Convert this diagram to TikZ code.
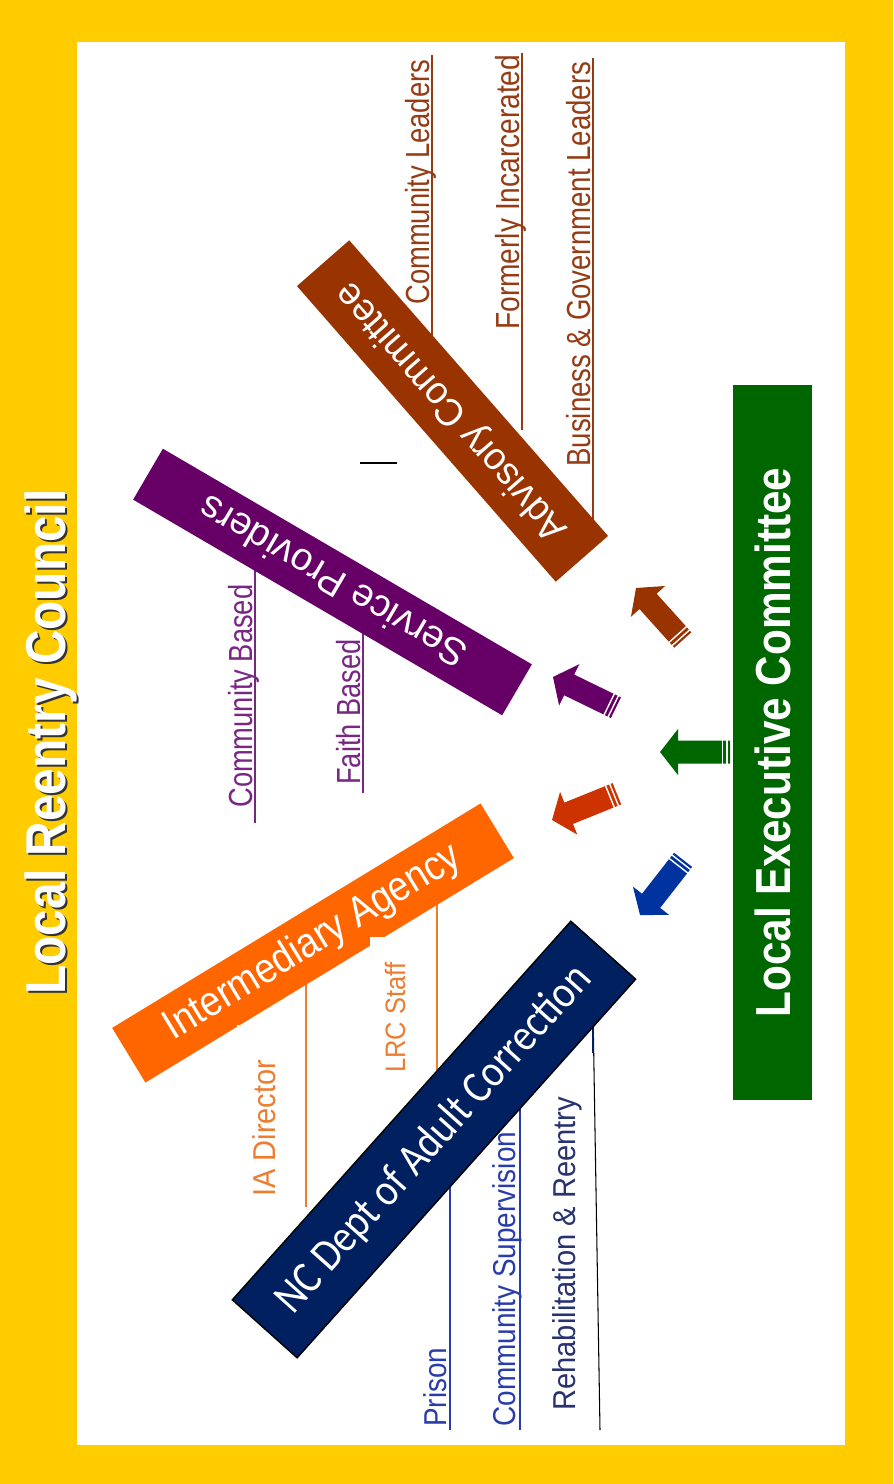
\documentclass[tikz,border=0pt]{standalone}
\usepackage{fontspec}
\setmainfont{Liberation Sans}
\newfontfamily\calfont{Carlito}
\usetikzlibrary{positioning}
\definecolor{rcyellow}{RGB}{255,204,0}
\definecolor{lecgreen}{RGB}{0,102,0}
\definecolor{advbrown}{RGB}{153,51,0}
\definecolor{sppurple}{RGB}{102,0,102}
\definecolor{iaorange}{RGB}{255,102,0}
\definecolor{ncnavy}{RGB}{0,32,96}
\definecolor{advtext}{RGB}{150,60,20}
\definecolor{sptext}{RGB}{120,40,130}
\definecolor{iatext}{RGB}{237,125,49}
\definecolor{nctext}{RGB}{40,60,170}
\definecolor{rehabtext}{RGB}{40,50,110}
\definecolor{arrred}{RGB}{204,51,0}
\definecolor{arrblue}{RGB}{0,51,160}
\newcommand{\fitw}[3]{\resizebox{#1}{\height}{\fontsize{#2}{#2}\selectfont #3}}

\begin{document}
\begin{tikzpicture}[x=0.02cm,y=-0.02cm,
    bar/.style={rectangle, inner sep=0pt, text=white},
    sublbl/.style={rotate=90, anchor=base west, inner sep=0pt},
    subline/.style={line width=0.8pt},
    pics/blockarrow/.style={code={
      \fill[fill=#1] (0,0) -- (-18,-23) -- (-18,-11.5) -- (-70,-11.5) -- (-70,11.5) -- (-18,11.5) -- (-18,23) -- cycle;
      \draw[white, line width=0.8pt] (-67,-12) -- (-67,12) (-62.5,-12) -- (-62.5,12);
    }}]
  \fill[rcyellow] (0,0) rectangle (893,1484);
  \useasboundingbox (0,0) rectangle (893,1484);
  \fill[white] (77,42) rectangle (845,1445);

  \node[rotate=90, anchor=base, inner sep=0pt, text=black!80] (titleshadow) at (67,744) {\fitw{10.1cm}{32}{\bfseries Local Reentry Council}};
  \node[rotate=90, anchor=base, inner sep=0pt, text=white] (title) at (65,742) {\fitw{10.1cm}{32}{\bfseries Local Reentry Council}};

  % underlines running into the bars
  \draw[subline, advtext] (432,55) -- (432,340) (522,53) -- (522,430) (593,58) -- (593,530);
  \draw[subline, sptext] (255,560) -- (255,823) (363,620) -- (363,793);
  \draw[subline, iatext] (306,970) -- (306,1207) (437,890) -- (437,1070);
  \draw[subline, nctext] (450,1170) -- (450,1430) (520,1090) -- (520,1430);
  \draw[line width=0.6pt, black] (593,1010) -- (600,1430);
  \draw[subline, ncnavy] (593,1020) -- (593,1053);
  \draw[line width=0.8pt] (360,463) -- (397,463);

  \node[bar, fill=lecgreen, rotate=90, minimum width=14.3cm, minimum height=1.58cm] (lec) at (772.5,742.5) {\fitw{11cm}{28}{\bfseries Local Executive Committee}};
  \node[bar, fill=advbrown, rotate=131.2, minimum width=7.86cm, minimum height=1.39cm] (adv) at (452.5,411) {\fitw{6.6cm}{22}{Advisory Committee}};
  \node[bar, fill=sppurple, rotate=149.7, minimum width=8.55cm, minimum height=1.18cm] (sp) at (332.5,582) {\fitw{6.05cm}{22}{Service Providers}};
  \node[bar, fill=iaorange, rotate=31.35, minimum width=8.63cm, minimum height=1.28cm] (ia) at (313,943) {\fitw{6.8cm}{24}{Intermediary Agency}};
  \fill[white] (370,937) rectangle (433,1095);
  \fill[white] (237,1025) rectangle (263,1060);
  \node[bar, fill=ncnavy, draw=black, line width=0.8pt, rotate=48.2, minimum width=10.16cm, minimum height=1.74cm] (nc) at (434,1139.5) {\fitw{9cm}{26}{\calfont NC Dept of Adult Correction}};

  \foreach \tx/\ty/\ang/\col in {660/752/180/lecgreen, 636/588/132/advbrown, 553/677/154/sppurple, 552/820/202/arrred, 640/915/232/arrblue}
    \pic[rotate=\ang] at (\tx,\ty) {blockarrow=\col};

  \node[sublbl, text=advtext] (cl) at (429,305) {\fitw{4.9cm}{19}{Community Leaders}};
  \node[sublbl, text=advtext] (fi) at (519,330) {\fitw{5.5cm}{19}{Formerly Incarcerated}};
  \node[sublbl, text=advtext] (bg) at (590,467) {\fitw{8.1cm}{19}{Business \& Government Leaders}};
  \node[sublbl, text=sptext] (cb) at (252,808) {\fitw{4.46cm}{19}{Community Based}};
  \node[sublbl, text=sptext] (fb) at (360,785) {\fitw{2.9cm}{19}{Faith Based}};
  \node[sublbl, text=iatext] (iad) at (275,1197) {\fitw{2.74cm}{18}{IA Director}};
  \node[sublbl, text=iatext] (lrc) at (405,1073) {\fitw{2.2cm}{16}{LRC Staff}};
  \node[sublbl, text=nctext] (pr) at (446,1427) {\fitw{1.58cm}{18}{Prison}};
  \node[sublbl, text=nctext] (cs) at (515,1427) {\fitw{5.9cm}{18}{Community Supervision}};
  \node[sublbl, text=rehabtext] (rr) at (575,1411) {\fitw{6.28cm}{18}{Rehabilitation \& Reentry}};
\end{tikzpicture}
\end{document}
